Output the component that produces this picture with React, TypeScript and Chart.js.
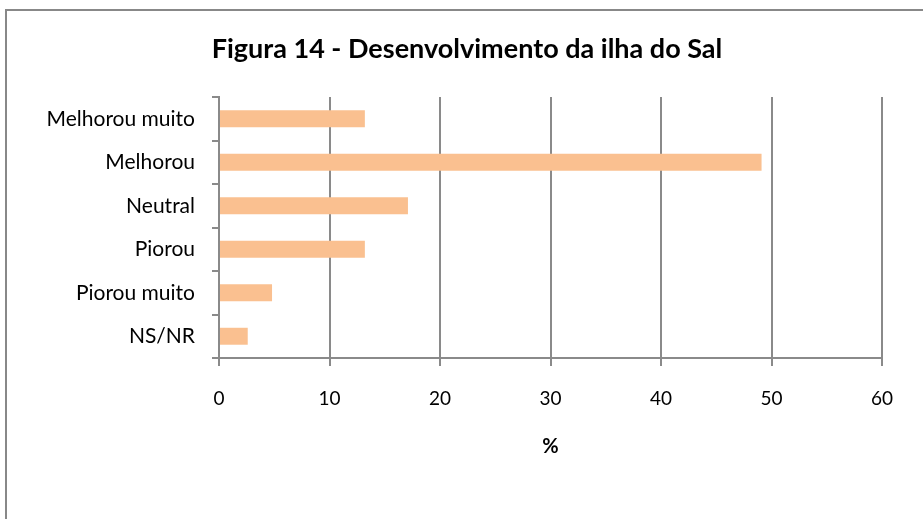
import React, { useEffect, useRef } from "react";
import { Chart, registerables } from "chart.js";

Chart.register(...registerables);

const categories = ["Melhorou muito", "Melhorou", "Neutral", "Piorou", "Piorou muito", "NS/NR"];
const values = [13.2, 49.1, 17.1, 13.2, 4.8, 2.6];
const xTicks = [0, 10, 20, 30, 40, 50, 60];
const titleText = "Figura 14 - Desenvolvimento da ilha do Sal";
const axisTitle = "%";

const FONT = "Lato";
const GRID = "#8a8a8a";

const titlePlugin = {
  id: "offsetTitle",
  afterDraw(chart: any) {
    const ctx = chart.ctx;
    ctx.save();
    ctx.font = `bold 27px ${FONT}`;
    ctx.fillStyle = "#000";
    ctx.textAlign = "center";
    ctx.textBaseline = "middle";
    ctx.fillText(titleText, 467, 49);
    ctx.restore();
  },
};

export default function App() {
  const ref = useRef<HTMLCanvasElement | null>(null);
  useEffect(() => {
    if (!ref.current) return;
    const chart = new Chart(ref.current, {
      type: "bar",
      data: {
        labels: categories,
        datasets: [
          {
            data: values,
            backgroundColor: "#FAC090",
            borderWidth: 0,
            categoryPercentage: 1,
            barPercentage: 0.39,
          },
        ],
      },
      options: {
        indexAxis: "y",
        responsive: false,
        animation: false,
        layout: { padding: { left: 0, right: 41, top: 97, bottom: 51 } },
        plugins: {
          legend: { display: false },
          tooltip: { enabled: false },
          title: { display: false },
        },
        scales: {
          x: {
            min: 0,
            max: 60,
            afterBuildTicks: (s: any) => {
              s.ticks = xTicks.map((v) => ({ value: v }));
            },
            afterFit: (s: any) => {
              s.height = 110;
            },
            grid: { color: GRID, lineWidth: 2, drawTicks: true, tickLength: 8 },
            border: { display: true, color: GRID, width: 2 },
            ticks: {
              color: "#000",
              padding: 21,
              maxRotation: 0,
              font: { family: FONT, size: 19, lineHeight: 1.2 },
            },
            title: {
              display: true,
              text: axisTitle,
              color: "#000",
              font: { family: FONT, size: 20, weight: "bold", lineHeight: 1.2 },
              padding: { top: 0, bottom: 9 },
            },
          },
          y: {
            afterFit: (s: any) => {
              s.width = 219;
            },
            grid: {
              color: GRID,
              lineWidth: 2,
              drawOnChartArea: false,
              drawTicks: true,
              tickLength: 7,
              offset: true,
            },
            border: { display: true, color: GRID, width: 2 },
            ticks: {
              color: "#000",
              padding: 17,
              font: { family: FONT, size: 21, lineHeight: 1.2 },
            },
          },
        },
      },
      plugins: [titlePlugin],
    });
    return () => chart.destroy();
  }, []);

  return (
    <div style={{ position: "fixed", left: 0, top: 0, width: 923, height: 519, overflow: "hidden", background: "#fff" }}>
      <div
        style={{
          position: "absolute",
          left: 5,
          top: 9,
          width: 1000,
          height: 1000,
          border: "2px solid #888",
          boxSizing: "border-box",
        }}
      />
      <canvas ref={ref} width={923} height={519} style={{ position: "absolute", left: 0, top: 0 }} />
    </div>
  );
}
